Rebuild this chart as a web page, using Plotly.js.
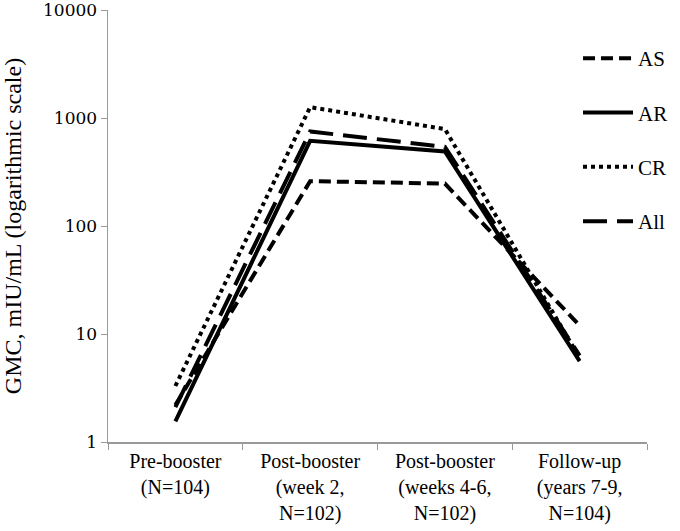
<!DOCTYPE html>
<html>
<head>
<meta charset="utf-8">
<script src="https://cdn.plot.ly/plotly-3.0.1.min.js"></script>
<style>
  body { margin: 0; background: #fff; }
  #chart { width: 680px; height: 531px; }
</style>
</head>
<body>
<div id="chart"></div>
<script>
// timepoints on the x axis
const timepoints = [
    'Pre-booster<br>(N=104)',
    'Post-booster<br>(week 2,<br>N=102)',
    'Post-booster<br>(weeks 4-6,<br>N=102)',
    'Follow-up<br>(years 7-9,<br>N=104)'
];

// GMC values (mIU/mL)
const gmcAS = [2.2, 260, 247, 12];
const gmcAR = [1.55, 615, 490, 5.6];
const gmcCR = [3.3, 1260, 790, 6.0];
const gmcAll = [2.1, 750, 540, 6.3];

const yTicks = [1, 10, 100, 1000, 10000];

function makeTrace(name, values, dash, group) {
    return {
        x: timepoints,
        y: values,
        type: 'scatter',
        mode: 'lines',
        name: name,
        legendgroup: group,
        line: { color: '#000', width: 4, dash: dash }
    };
}

const data = [
    makeTrace('AS', gmcAS, '12px,6px', 'g1'),
    makeTrace('AR', gmcAR, 'solid', 'g2'),
    makeTrace('CR', gmcCR, 'dot', 'g3'),
    makeTrace('All', gmcAll, '24px,10px', 'g4')
];

const serif = 'Liberation Serif';

const layout = {
    width: 680,
    height: 531,
    font: { family: serif, color: '#000' },
    margin: { l: 108, r: 7, t: 10, b: 89 },
    paper_bgcolor: '#fff',
    plot_bgcolor: '#fff',
    showlegend: true,
    legend: {
        x: 0.872, y: 0.935, xanchor: 'left', yanchor: 'top',
        font: { family: serif, size: 21, color: '#000' },
        traceorder: 'grouped',
        tracegroupgap: 24,
        itemwidth: 50,
        bgcolor: 'rgba(0,0,0,0)'
    },
    xaxis: {
        type: 'category',
        tickson: 'boundaries',
        ticks: 'outside',
        ticklen: 6,
        tickcolor: '#999',
        showline: true,
        linecolor: '#999',
        linewidth: 1.5,
        showgrid: false,
        zeroline: false,
        range: [-0.5, 3.5],
        tickfont: { family: serif, size: 20, color: '#000' }
    },
    yaxis: {
        type: 'log',
        range: [0, 4],
        tickvals: yTicks,
        ticktext: yTicks.map(String),
        ticklabeloverflow: 'allow',
        ticks: 'outside',
        ticklen: 6,
        tickcolor: '#999',
        showline: true,
        linecolor: '#999',
        linewidth: 1.5,
        showgrid: false,
        zeroline: false,
        tickfont: { family: 'DejaVu Serif', size: 17, color: '#000' },
        title: {
            text: 'GMC, mIU/mL (logarithmic scale)',
            font: { family: serif, size: 24, color: '#000' },
            standoff: 17
        }
    }
};

Plotly.newPlot('chart', data, layout, { displayModeBar: false, staticPlot: true });
</script>
</body>
</html>
